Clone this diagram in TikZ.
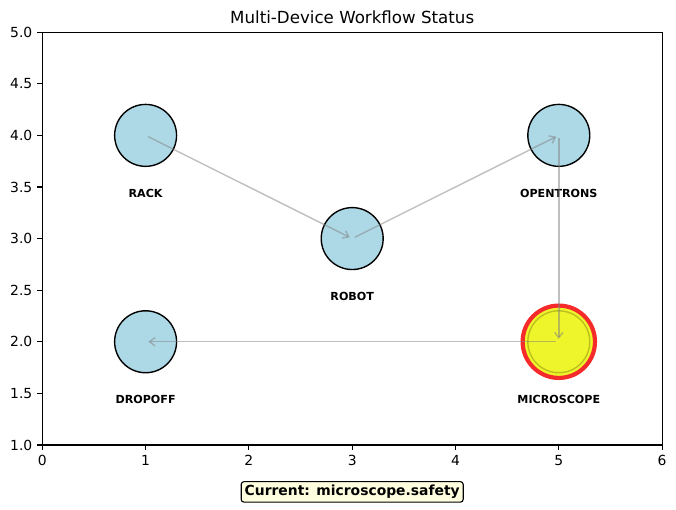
\documentclass[tikz,border=0pt]{standalone}
\usepackage{fontspec}
\setmainfont{DejaVu Sans}
\usetikzlibrary{arrows.meta}
\definecolor{DeviceClr}{HTML}{ADD8E6}
\definecolor{ActiveClr}{HTML}{EEF52A}
\definecolor{RingClr}{HTML}{F52A2A}
\definecolor{CoreClr}{HTML}{BCC01E}
\definecolor{BoxClr}{HTML}{FFFFE0}

\begin{document}
\begin{tikzpicture}[x=74.38pt,y=74.30pt,
  device/.style={circle,draw=black,line width=1pt,fill=DeviceClr,minimum size=44.6pt,inner sep=0pt},
  ring/.style={circle,draw=RingClr,line width=3pt,fill=ActiveClr,minimum size=52.1pt,inner sep=0pt},
  core/.style={circle,draw=CoreClr,line width=1pt,fill=ActiveClr,minimum size=44.6pt,inner sep=0pt},
  flow/.style={draw=gray,opacity=0.5,line width=1pt,-{Straight Barb[length=4pt,width=6pt]},shorten <=2pt,shorten >=2pt},
  devlabel/.style={anchor=base,inner sep=0pt,font=\bfseries\fontsize{8}{9.6}\selectfont},
  axtick/.style={line width=0.8pt},
  ticklabel/.style={inner sep=0pt,font=\fontsize{10}{12}\selectfont}]
\useasboundingbox (-0.4095,0.370) rectangle (6.1346,5.312);

\node[anchor=base,font=\fontsize{12}{14.4}\selectfont] (title) at ([yshift=6pt]3,5) {Multi-Device Workflow Status};

\draw[line width=0.8pt] (0,1) rectangle (6,5);
\foreach \x in {0,...,6} {
  \draw[axtick] (\x,1) -- ++(0,-3.5pt);
  \node[ticklabel,anchor=north] (xt\x) at ([yshift=-7pt]\x,1) {\x};
}
\foreach \y [count=\i] in {1.0,1.5,2.0,2.5,3.0,3.5,4.0,4.5,5.0} {
  \draw[axtick] (0,\y) -- ++(-3.5pt,0);
  \node[ticklabel,anchor=east] (yt\i) at ([xshift=-7pt]0,\y) {\y};
}

\node[device] (rack) at (1,4) {};
\node[device] (robot) at (3,3) {};
\node[device] (opentrons) at (5,4) {};
\node[device] (dropoff) at (1,2) {};
\node[ring] (microscope-ring) at (5,2) {};
\node[core] (microscope) at (5,2) {};

\node[devlabel] (rack-lbl) at (1,3.4) {RACK};
\node[devlabel] (robot-lbl) at (3,2.4) {ROBOT};
\node[devlabel] (opentrons-lbl) at (5,3.4) {OPENTRONS};
\node[devlabel] (dropoff-lbl) at (1,1.4) {DROPOFF};
\node[devlabel] (microscope-lbl) at (5,1.4) {MICROSCOPE};

\draw[flow] (rack.center) -- (robot.center);
\draw[flow] (robot.center) -- (opentrons.center);
\draw[flow] (opentrons.center) -- (microscope.center);
\draw[flow] (microscope.center) -- (dropoff.center);

\node[draw=black,fill=BoxClr,rounded corners=2pt,line width=0.8pt,inner sep=2.5pt,font=\bfseries\fontsize{10}{12}\selectfont] (status) at (3,0.545) {Current: microscope.safety};
\end{tikzpicture}
\end{document}
